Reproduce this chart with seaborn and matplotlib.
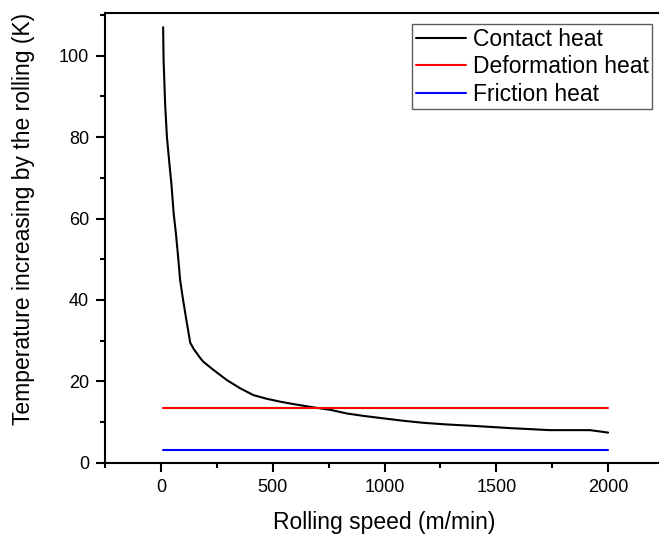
import numpy as np
import pandas as pd
import matplotlib
matplotlib.use("Agg")
import matplotlib.pyplot as plt
import seaborn as sns
from matplotlib.ticker import MultipleLocator

# --- DATA ---
speed = [10, 12, 19, 27, 38, 47, 57, 67, 77, 86, 97, 109, 119, 131, 146,
         176, 190, 235, 295, 354, 414, 474, 533, 593, 682, 757, 831, 906,
         995, 1085, 1174, 1278, 1413, 1561, 1740, 1919, 2000]
contact_heat = [107, 99, 88, 80, 73.5, 68.5, 61.3, 56.4, 50.6, 44.9, 40.8,
                36.7, 33.4, 29.5, 28.0, 25.7, 24.8, 22.8, 20.3, 18.3, 16.6,
                15.7, 15.0, 14.4, 13.6, 13.0, 12.1, 11.5, 10.9, 10.3, 9.8,
                9.4, 9.0, 8.5, 8.0, 8.0, 7.4]
flat_speed = [10, 2000]
deformation_heat = [13.4, 13.4]
friction_heat = [3.0, 3.0]

COLORS = {'Contact heat': 'black', 'Deformation heat': '#ff0000', 'Friction heat': '#0000ff'}

sns.set_theme(style="ticks")
plt.rcParams['font.family'] = ['Liberation Sans', 'DejaVu Sans']
plt.rcParams['text.color'] = 'black'
plt.rcParams['axes.labelcolor'] = 'black'
plt.rcParams['xtick.color'] = 'black'
plt.rcParams['ytick.color'] = 'black'

fig = plt.figure(figsize=(6.59, 5.35), dpi=100)
ax = fig.add_axes([105 / 659, 1 - 462.7 / 535, (664 - 105) / 659, (462.7 - 13) / 535])

df = pd.concat([
    pd.DataFrame({'speed': speed, 'temp': contact_heat, 'kind': 'Contact heat'}),
    pd.DataFrame({'speed': flat_speed, 'temp': deformation_heat, 'kind': 'Deformation heat'}),
    pd.DataFrame({'speed': flat_speed, 'temp': friction_heat, 'kind': 'Friction heat'}),
])

sns.lineplot(data=df, x='speed', y='temp', hue='kind', palette=COLORS,
             linewidth=1.5, sort=False, estimator=None, ax=ax)

ax.set_xlim(-250, 2250)
ax.set_ylim(0, 110.5)
ax.xaxis.set_major_locator(MultipleLocator(500))
ax.xaxis.set_minor_locator(MultipleLocator(250))
ax.yaxis.set_major_locator(MultipleLocator(20))
ax.yaxis.set_minor_locator(MultipleLocator(10))

ax.spines['right'].set_visible(False)
for s in ['left', 'bottom', 'top']:
    ax.spines[s].set_linewidth(1.5)
    ax.spines[s].set_color('black')

ax.tick_params(which='major', length=6.5, width=1.5, labelsize=13, pad=5, color='black',
               labelcolor='black')
ax.tick_params(which='minor', length=3.5, width=1.5, color='black')
ax.tick_params(axis='x', which='both', bottom=True, top=False)
ax.tick_params(axis='y', which='both', left=True, right=False)

ax.set_xlabel("Rolling speed (m/min)", fontsize=16.5, labelpad=11, color='black')
ax.set_ylabel("Temperature increasing by the rolling (K)", fontsize=16.5, color='black')
ax.yaxis.set_label_coords(-0.125, (462.7 - 219) / 449.7)

leg = ax.legend(loc='upper left', bbox_to_anchor=(412.3 / 659, 1 - 24.3 / 535),
                bbox_transform=fig.transFigure, fontsize=16.5, frameon=True,
                fancybox=False, borderaxespad=0, borderpad=0.15,
                labelspacing=0.2, handlelength=2.2, handletextpad=0.3, title=None)
leg.get_frame().set_edgecolor('#333333')
leg.get_frame().set_linewidth(1.0)
for t in leg.get_texts():
    t.set_color('black')

fig.savefig("out.png", dpi=100)
